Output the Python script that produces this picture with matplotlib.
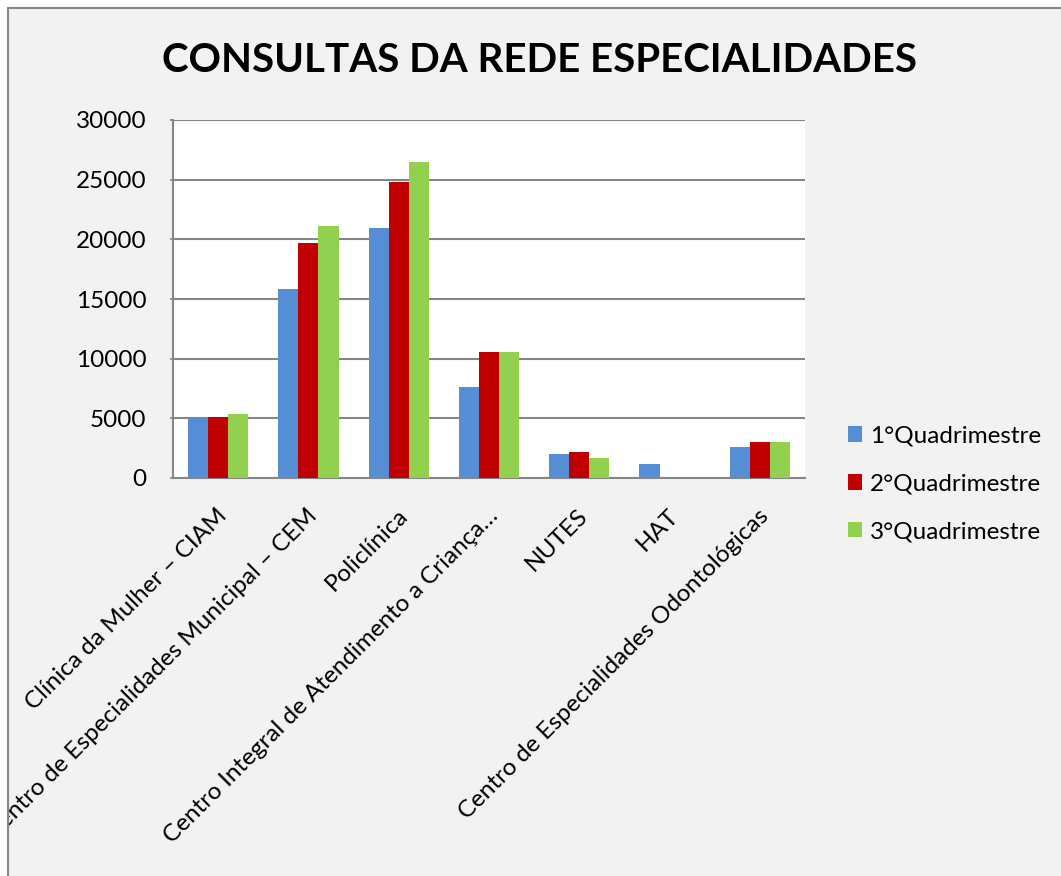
import matplotlib
matplotlib.use("Agg")
import matplotlib.pyplot as plt
import matplotlib.transforms as mtransforms
from matplotlib.patches import Rectangle
from matplotlib.lines import Line2D
import numpy as np

plt.rcParams['font.family'] = ['Lato', 'DejaVu Sans']

title = "CONSULTAS DA REDE ESPECIALIDADES"
categories = [
    "Clínica da Mulher – CIAM",
    "Centro de Especialidades Municipal – CEM",
    "Policlínica",
    "Centro Integral de Atendimento a Criança…",
    "NUTES",
    "HAT",
    "Centro de Especialidades Odontológicas",
]
series_names = ["1°Quadrimestre", "2°Quadrimestre", "3°Quadrimestre"]
q1 = [5070, 15820, 20930, 7620, 2010, 1170, 2560]
q2 = [5080, 19730, 24830, 10520, 2140, 0, 2980]
q3 = [5360, 21100, 26480, 10520, 1640, 0, 2980]
colors = ["#558ed5", "#c00000", "#92d050"]
yticks = [0, 5000, 10000, 15000, 20000, 25000, 30000]

W, H = 1061, 876
FS = 17.5
fig = plt.figure(figsize=(W / 100, H / 100), dpi=100, facecolor="white")

# chart area background and border
bg = Rectangle((8 / W, -0.1), 1.2, (1 - 8 / H) + 0.1, transform=fig.transFigure,
               facecolor="#f2f2f2", edgecolor="#878787", linewidth=1.5, zorder=-5)
fig.patches.append(bg)

ax = fig.add_axes([173 / W, 1 - 478 / H, (805 - 173) / W, (478 - 120) / H])
ax.set_facecolor("white")

x = np.arange(len(categories))
bw = 0.667 / 3
for i, (vals, c, name) in enumerate(zip([q1, q2, q3], colors, series_names)):
    ax.bar(x + (i - 1) * bw, vals, width=bw, color=c, label=name, zorder=3)

ax.set_xlim(-0.5, len(categories) - 0.5)
ax.set_ylim(0, 30000)
ax.set_yticks(yticks)
ax.set_yticklabels([str(v) for v in yticks], fontsize=FS)
ax.yaxis.grid(True, color="#868686", linewidth=1.5, zorder=0)
ax.set_axisbelow(True)
for s in ["top", "right"]:
    ax.spines[s].set_visible(False)
for s in ["left", "bottom"]:
    ax.spines[s].set_color("#868686")
    ax.spines[s].set_linewidth(1.5)
ax.tick_params(axis="y", length=2, width=1.2, color="#868686", pad=17)
ax.tick_params(axis="x", length=0, pad=19.5)

ax.set_xticks(x)
ax.set_xticklabels(categories, fontsize=FS, rotation=45, ha="right", va="top",
                   rotation_mode="anchor")
off = mtransforms.ScaledTranslation(-2 / 100, 0, fig.dpi_scale_trans)
for lab in ax.get_xticklabels():
    lab.set_transform(lab.get_transform() + off)

fig.text(540 / W, 1 - 60 / H, title, ha="center", va="center",
         fontsize=29, fontweight="bold")

fig.legend(loc="center left", bbox_to_anchor=(838 / W, 1 - 484 / H), frameon=False,
           fontsize=FS, handlelength=0.6, handleheight=0.6, handletextpad=0.3,
           labelspacing=1.1, borderaxespad=0)

# white strip outside chart area on the left (the reference clips the long label here)
fig.patches.append(Rectangle((0, 0), 7.3 / W, 1, transform=fig.transFigure,
                             facecolor="white", edgecolor="none", zorder=10))
fig.lines.append(Line2D([8 / W, 8 / W], [0, 1 - 8 / H], transform=fig.transFigure,
                        color="#878787", linewidth=1.5, zorder=11))

fig.savefig("out.png", dpi=100, facecolor="white")
